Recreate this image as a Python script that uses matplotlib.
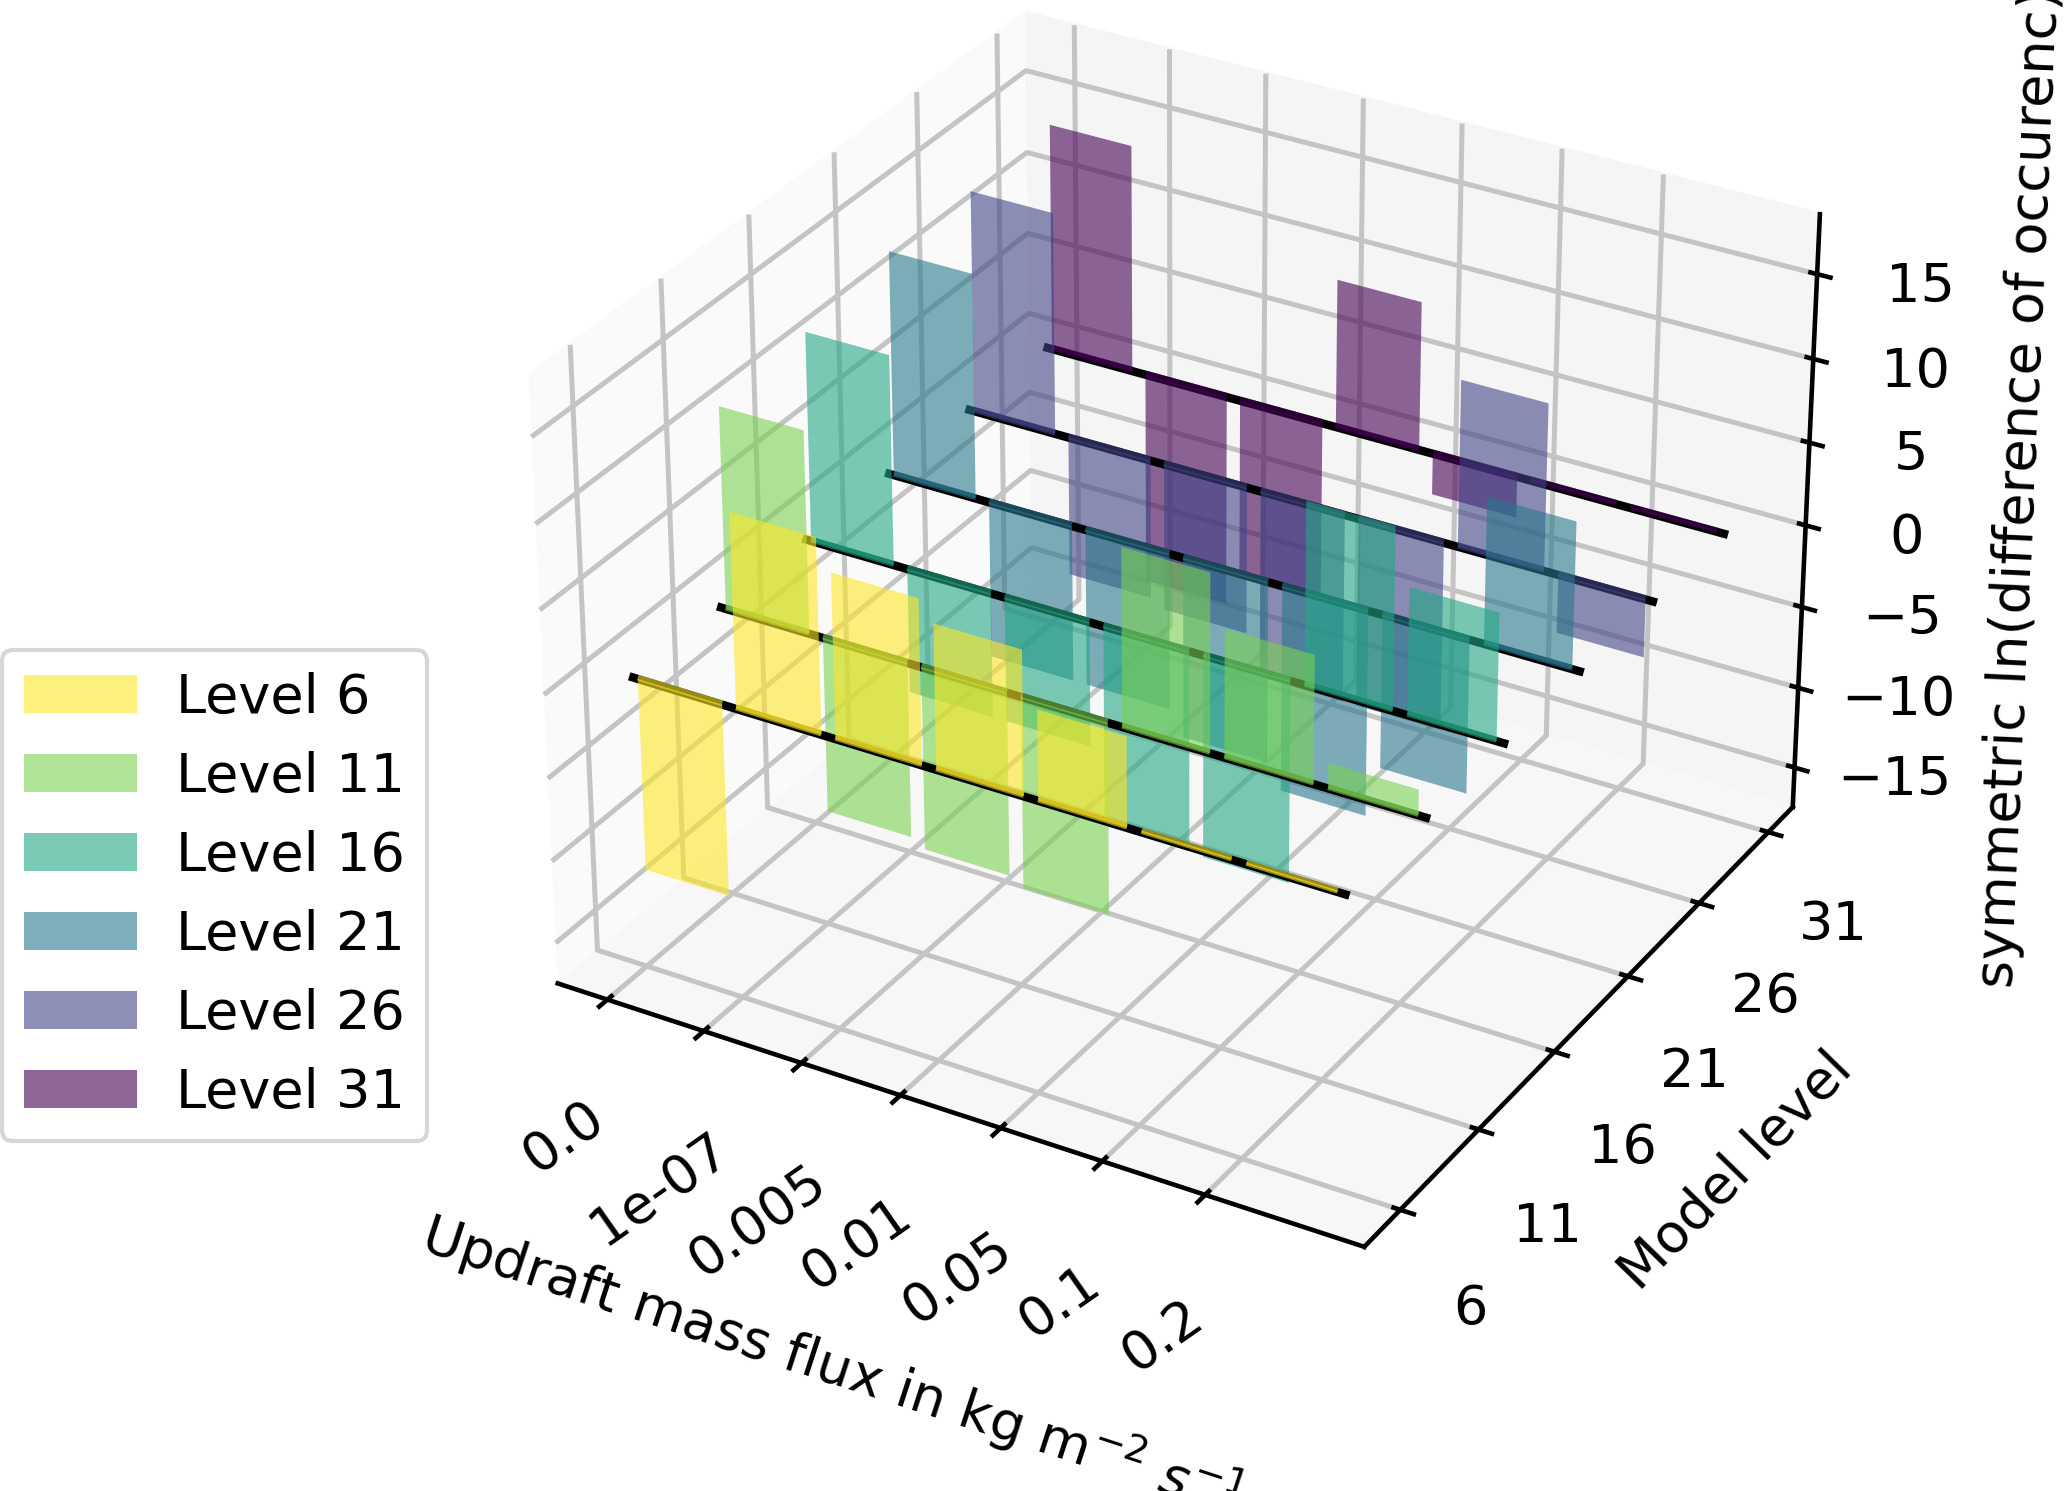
import numpy as np
import matplotlib
matplotlib.use('Agg')
import matplotlib.pyplot as plt
from matplotlib.patches import Patch

levels = ['6', '11', '16', '21', '26', '31']
level_pos = [0, 1, 2, 3, 4, 5]
flux_labels = ['0.0', '1e-07', '0.005', '0.01', '0.05', '0.1', '0.2']
flux_pos = [0, 1, 2, 3, 4, 5, 6]
level6 = [-11.5, 11.5, 9.7, 8.5, 5.3, 0.1, 0.1]
level11 = [12.0, -10.5, -11, -11.5, 10.5, 7.5, 1.5]
level16 = [12.5, -7.5, -7.5, -12.1, -12.2, 10.8, 7.5]
level21 = [13.5, -9.5, -9.5, -11, -12.5, -9.3, 8.7]
level26 = [13.4, -8.5, -9, -11.5, -11.5, 10, -3.5]
level31 = [13.8, -13, -11, 9, -2.5, 0.1, 0.1]
all_values = [level6, level11, level16, level21, level26, level31]
colors = [plt.cm.viridis(v) for v in (1.0, 0.8, 0.6, 0.4, 0.2, 0.0)]

plt.rcParams['font.size'] = 13
fig = plt.figure(figsize=(6.89, 4.97), dpi=300)
ax = fig.add_axes([0.1987, 0.103, 0.732, 0.963], projection='3d')
ax.computed_zorder = False

bar_width = 0.86
for k, vals in enumerate(all_values):
    base = 10 * (len(levels) - k)
    ax.plot([-0.06, 7.0], [level_pos[k]] * 2, [0, 0], color='black', lw=2.0,
            solid_capstyle='butt', zorder=base)
    for p, v in zip(flux_pos, vals):
        ax.plot([p + 0.03, p + 0.89], [level_pos[k]] * 2, [0.08, 0.08],
                color=colors[k], alpha=0.6, lw=1.4, solid_capstyle='butt', zorder=base + 1)
    ax.bar([p + 0.46 for p in flux_pos], vals, zs=level_pos[k], zdir='y', width=bar_width,
           color=colors[k], alpha=0.6, linewidth=0, zorder=base + 2)

ax.set_xlim(-0.52, 7.52)
ax.set_ylim(-0.45, 5.36)
ax.set_zlim(-17.5, 18.5)
ax.set_xticks(flux_pos)
ax.set_xticklabels(flux_labels, rotation=35)
ax.set_yticks(level_pos)
ax.set_yticklabels(levels)
ax.set_zticks([-15, -10, -5, 0, 5, 10, 15])
ax.tick_params(axis='x', pad=8)
ax.tick_params(axis='y', pad=7)
ax.tick_params(axis='z', pad=7)
ax.set_xlabel(r'Updraft mass flux in kg m$^{\mathit{-2}}$ $\mathit{s}^{\mathit{-1}}$', rotation=-18, labelpad=22)
ax.set_ylabel('Model level', labelpad=12)
ax.set_zlabel('symmetric ln(difference of occurenc)', labelpad=10.8)

for axis, shade in ((ax.xaxis, 0.98), (ax.yaxis, 0.96), (ax.zaxis, 0.97)):
    axis.set_pane_color((shade, shade, shade, 1.0))
    axis._axinfo['grid']['linewidth'] = 1.2
    axis._axinfo['grid']['color'] = '#c4c4c4'
    axis.line.set_linewidth(1.1)
    axis._axinfo['tick']['linewidth'] = {True: 1.1, False: 0.8}

handles = [Patch(facecolor=c, alpha=0.6, linewidth=0, label='Level ' + l) for c, l in zip(colors, levels)]
fig.legend(handles=handles, loc='lower left', bbox_to_anchor=(0.001, 0.235), borderaxespad=0,
           handlelength=2.1, handletextpad=0.72)
fig.savefig('out.png', dpi=300)
